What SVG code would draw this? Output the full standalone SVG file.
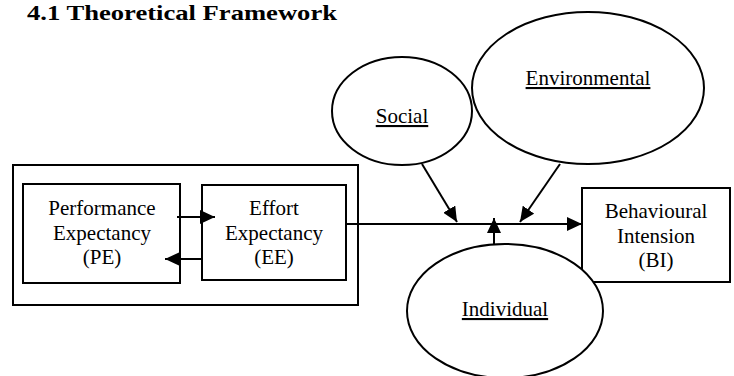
<svg xmlns="http://www.w3.org/2000/svg" width="734" height="376" viewBox="0 0 734 376">
<defs>
<style>
.box{fill:#fff;stroke:#000;stroke-width:2}
.ell{fill:#fff;stroke:#000;stroke-width:2}
.c{stroke:#000;stroke-width:2;fill:none;marker-end:url(#ah)}
text{font-family:'Liberation Serif', serif;fill:#000}
.t{font-size:21px;text-anchor:middle}
.u{text-decoration:underline}
.title{font-size:22px;font-weight:bold}
</style>
<marker id="ah" markerUnits="userSpaceOnUse" markerWidth="16" markerHeight="14" refX="15" refY="7" orient="auto">
<path d="M0,0 L15,7 L0,14 z" fill="#000"/>
</marker>
</defs>
<rect width="734" height="376" fill="#fff"/>
<text class="title" x="27" y="20" textLength="310" lengthAdjust="spacingAndGlyphs">4.1 Theoretical Framework</text>
<g id="outer">
<rect class="box" x="13" y="165" width="345" height="140"/>
</g>
<g id="pe">
<rect class="box" x="23" y="184" width="157" height="99"/>
<text class="t" x="102" y="215">Performance</text>
<text class="t" x="102" y="240">Expectancy</text>
<text class="t" x="102" y="264">(PE)</text>
</g>
<g id="ee">
<rect class="box" x="202" y="185" width="144" height="95"/>
<text class="t" x="274" y="215">Effort</text>
<text class="t" x="274" y="240">Expectancy</text>
<text class="t" x="274" y="264">(EE)</text>
</g>
<g id="bi">
<rect class="box" x="582" y="188" width="148" height="94"/>
<text class="t" x="656" y="218">Behavioural</text>
<text class="t" x="656" y="243">Intension</text>
<text class="t" x="656" y="267">(BI)</text>
</g>
<g id="social">
<ellipse class="ell" cx="402" cy="111" rx="70" ry="54"/>
<text class="t u" x="402" y="123">Social</text>
</g>
<g id="environmental">
<ellipse class="ell" cx="588" cy="88" rx="116" ry="76"/>
<text class="t u" x="588" y="85">Environmental</text>
</g>
<g id="individual">
<ellipse class="ell" cx="505" cy="311" rx="98" ry="67"/>
<text class="t u" x="505" y="316">Individual</text>
</g>
<g id="connectors">
<line class="c" x1="177" y1="217" x2="215" y2="217"/>
<line class="c" x1="202" y1="259" x2="165" y2="259"/>
<line class="c" x1="346" y1="224" x2="582" y2="224"/>
<line class="c" x1="422" y1="164" x2="457" y2="222"/>
<line class="c" x1="560" y1="164" x2="520" y2="222"/>
<line class="c" x1="494" y1="244" x2="494" y2="218"/>
</g>
</svg>
